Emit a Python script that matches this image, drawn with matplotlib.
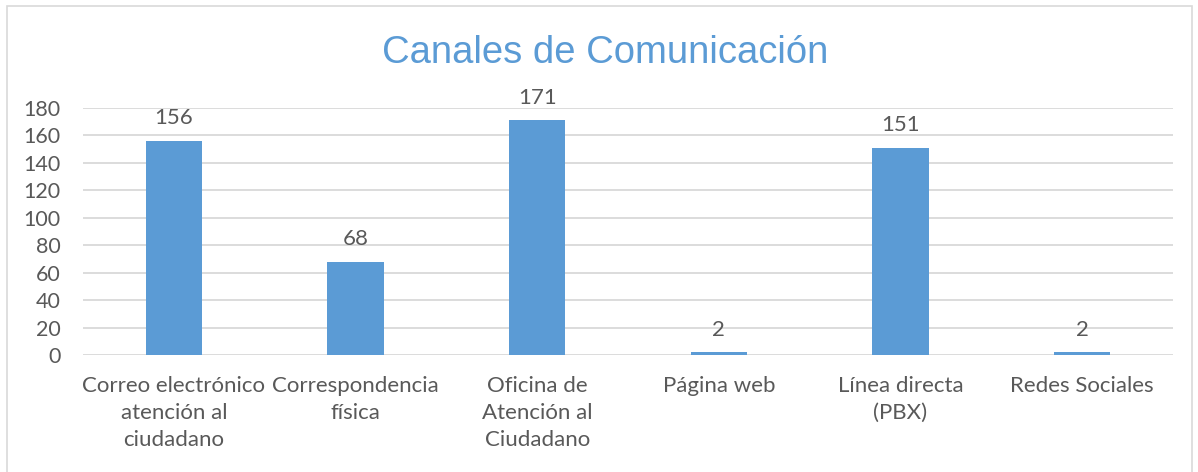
import matplotlib.pyplot as plt
from matplotlib.patches import Rectangle

categorias = ["Correo electrónico\natención al\nciudadano", "Correspondencia\nfísica",
              "Oficina de\nAtención al\nCiudadano", "Página web",
              "Línea directa\n(PBX)", "Redes Sociales"]
valores = [156, 68, 171, 2, 151, 2]
yticks = [0, 20, 40, 60, 80, 100, 120, 140, 160, 180]

azul = "#5B9BD5"
gris = "#595959"

plt.rcParams['font.family'] = ['Lato', 'DejaVu Sans']

fig = plt.figure(figsize=(11.98, 4.72), dpi=100)
ax = fig.add_axes([83 / 1198, 1 - 355 / 472, (1173 - 83) / 1198, (355 - 108) / 472])

x = range(len(valores))
bars = ax.bar(x, valores, width=0.31, color=azul, zorder=3)
for b, v in zip(bars, valores):
    ax.annotate(str(v), (b.get_x() + b.get_width() / 2, v), xytext=(0, 9),
                textcoords='offset points', ha='center', va='bottom',
                fontsize=16, color=gris)

ax.set_xlim(-0.5, len(valores) - 0.5)
ax.set_ylim(0, 180)
ax.set_yticks(yticks)
ax.set_xticks(list(x))
ax.set_xticklabels(categorias, fontsize=16, color=gris, linespacing=1.45)
ax.tick_params(axis='y', labelsize=15.5, labelcolor=gris, length=0, pad=16)
ax.tick_params(axis='x', length=0, pad=15)
ax.grid(axis='y', color="#D9D9D9", linewidth=1.3, zorder=0)
for s in ax.spines.values():
    s.set_visible(False)

fig.text(0.505, 1 - 53 / 472, "Canales de Comunicación", ha='center', va='center',
         fontsize=27.5, color=azul, family=['Liberation Sans', 'DejaVu Sans'])

fig.patches.append(Rectangle((7 / 1198, -0.01), (1192 - 7) / 1198, 1 - 6 / 472 + 0.01,
                             transform=fig.transFigure, fill=False,
                             edgecolor="#D9D9D9", linewidth=1.2))

fig.savefig("out.png", dpi=100)
